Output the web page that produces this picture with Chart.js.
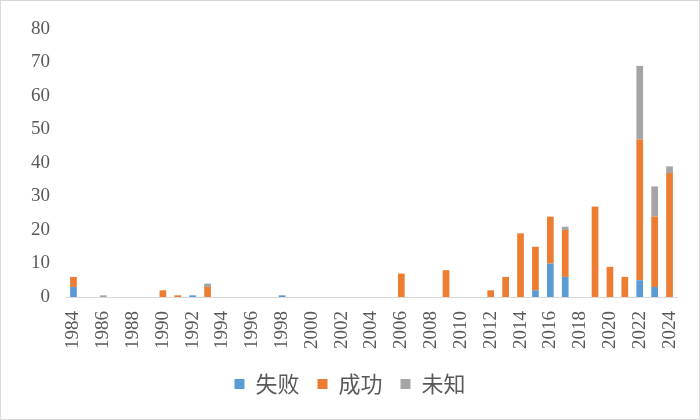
<!DOCTYPE html><html><head><meta charset="utf-8">
<script src="https://cdn.jsdelivr.net/npm/chart.js@4"></script>
<style>body{margin:0;background:#fff}#w{width:698px;height:418px;border:1px solid #d9d9d9;}</style></head><body>
<div id="w"><canvas id="c"></canvas></div>
<script>
const years=[];for(let y=1984;y<=2024;y++)years.push(String(y));
const fail=[3,0,0,0,0,0,0,0,0.5,0,0,0,0,0,0.5,0,0,0,0,0,0,0,0,0,0,0,0,0,0,0,0,2,10,6,0,0,0,0,5,3,0];
const success=[3,0,0,0,0,0,2,0.5,0,3,0,0,0,0,0,0,0,0,0,0,0,0,7,0,0,8,0,0,2,6,19,13,14,14,0,27,9,6,42,21,37];
const unknown=[0,0,0.5,0,0,0,0,0,0,1,0,0,0,0,0,0,0,0,0,0,0,0,0,0,0,0,0,0,0,0,0,0,0,1,0,0,0,0,22,9,2];
const font={family:"'Liberation Serif','Noto Sans CJK SC'",size:19};
new Chart(document.getElementById('c'),{type:'bar',data:{labels:years,datasets:[
{label:'失败',data:fail,backgroundColor:'#5b9bd5'},
{label:'成功',data:success,backgroundColor:'#ed7d31'},
{label:'未知',data:unknown,backgroundColor:'#a5a5a5'}]},
options:{responsive:true,maintainAspectRatio:false,animation:false,
layout:{padding:{left:22,right:22,top:28,bottom:14}},
datasets:{bar:{categoryPercentage:0.9,barPercentage:0.5}},
plugins:{legend:{position:'bottom',labels:{boxWidth:10,boxHeight:10,font:{family:"'Noto Sans CJK SC'",size:22},color:'#595959',padding:18}},tooltip:{enabled:false}},
scales:{x:{stacked:true,grid:{display:false},border:{color:'#d9d9d9'},ticks:{font,color:'#595959',padding:6,maxRotation:90,minRotation:90,autoSkip:false,callback:(v,i)=>i%2===0?years[i]:''}},
y:{stacked:true,min:0,max:80,grid:{display:false},border:{display:false},ticks:{stepSize:10,font,color:'#595959',padding:8}}}}});
</script></body></html>
